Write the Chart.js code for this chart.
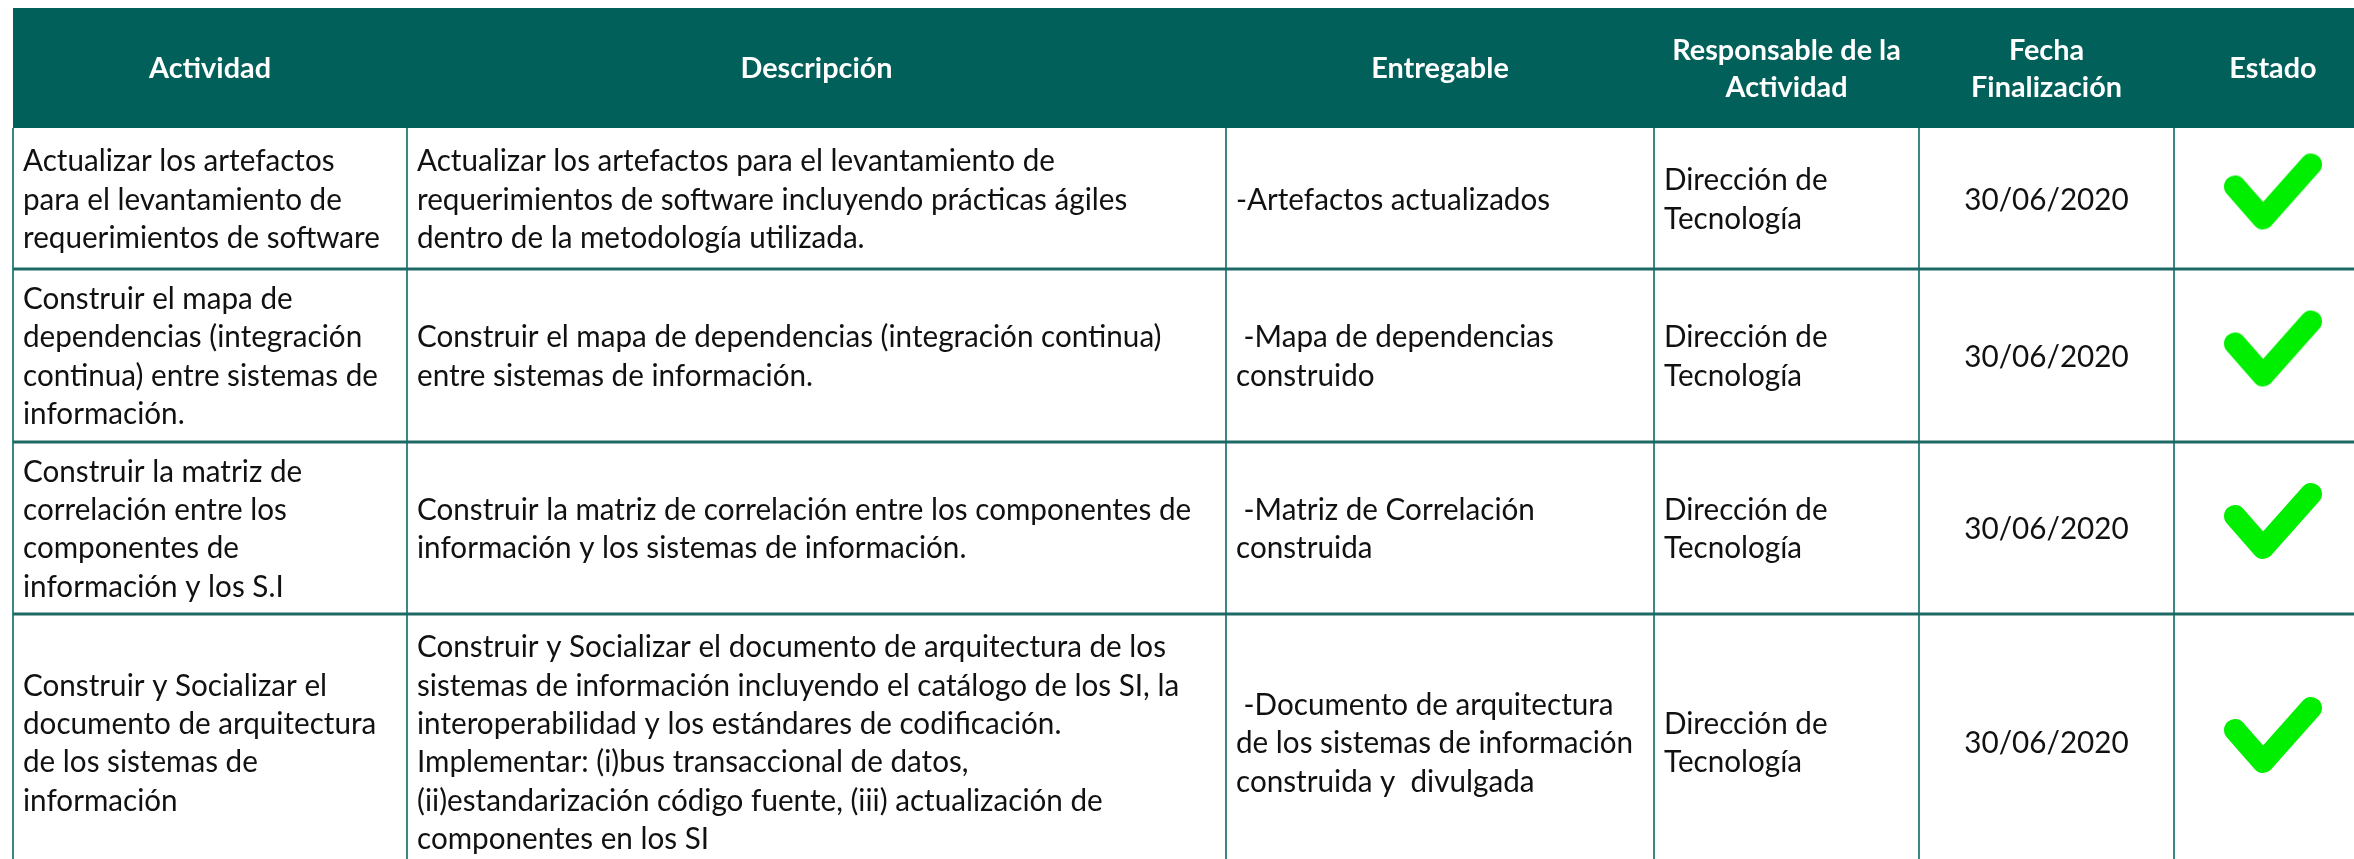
<!DOCTYPE html>
<html>
<head>
<meta charset="utf-8">
<script src="https://cdn.jsdelivr.net/npm/chart.js@4.4.1/dist/chart.umd.min.js"></script>
<style>
    html, body { margin: 0; padding: 0; background: #ffffff; }
    #tabla { display: block; }
</style>
</head>
<body>
<canvas id="tabla" width="2354" height="859"></canvas>
<script>
// datos de la tabla
const encabezados = [["Actividad"], ["Descripción"], ["Entregable"], ["Responsable de la", "Actividad"], ["Fecha", "Finalización"], ["Estado"]];

const actividades = [
    ["Actualizar los artefactos", "para el levantamiento de", "requerimientos de software"],
    ["Construir el mapa de", "dependencias (integración", "continua) entre sistemas de", "información."],
    ["Construir la matriz de", "correlación entre los", "componentes de", "información y los S.I"],
    ["Construir y Socializar el", "documento de arquitectura", "de los sistemas de", "información"]
];

const descripciones = [
    ["Actualizar los artefactos para el levantamiento de", "requerimientos de software incluyendo prácticas ágiles", "dentro de la metodología utilizada."],
    ["Construir el mapa de dependencias (integración continua)", "entre sistemas de información."],
    ["Construir la matriz de correlación entre los componentes de", "información y los sistemas de información."],
    ["Construir y Socializar el documento de arquitectura de los", "sistemas de información incluyendo el catálogo de los SI, la", "interoperabilidad y los estándares de codificación.", "Implementar: (i)bus transaccional de datos,", "(ii)estandarización código fuente, (iii) actualización de", "componentes en los SI"]
];

const entregables = [
    ["-Artefactos actualizados"],
    [" -Mapa de dependencias", "construido"],
    [" -Matriz de Correlación", "construida"],
    [" -Documento de arquitectura", "de los sistemas de información", "construida y  divulgada"]
];

const responsables = [
    ["Dirección de", "Tecnología"],
    ["Dirección de", "Tecnología"],
    ["Dirección de", "Tecnología"],
    ["Dirección de", "Tecnología"]
];

const fechas = ["30/06/2020", "30/06/2020", "30/06/2020", "30/06/2020"];
const estados = [true, true, true, true];

// disposición (pixeles)
const bordesColumnas = [13, 407, 1226, 1654, 1919, 2174, 2372];
const altoEncabezado = 120;
const inicioTabla = 8;
const altosFilas = [141, 173, 172, 256];
const alineaciones = ["left", "left", "left", "left", "center", "center"];

const colorEncabezado = "#01605a";
const colorLineaV = "#3a8883";
const colorLineaH = "#1d6a65";
const colorTexto = "#111111";
const colorCheck = "#00ee00";

const topesFilas = [];
altosFilas.reduce((acc, h) => { topesFilas.push(acc); return acc + h; }, inicioTabla + altoEncabezado);

function crearCheck() {
    const c = document.createElement("canvas");
    c.width = 110;
    c.height = 90;
    const g = c.getContext("2d");
    const cx = 55, cy = 45;
    g.strokeStyle = colorCheck;
    g.lineWidth = 22;
    g.lineCap = "round";
    g.lineJoin = "round";
    g.beginPath();
    g.moveTo(cx - 38, cy - 5);
    g.lineTo(cx - 10, cy + 27);
    g.lineTo(cx + 38, cy - 27);
    g.stroke();
    return c;
}

function textoComprimido(ctx, linea, x, y, alinear, escala) {
    ctx.save();
    ctx.translate(x, y);
    ctx.scale(escala, 1);
    ctx.textAlign = alinear;
    ctx.fillText(linea, 0, 0);
    ctx.restore();
}

const pluginTabla = {
    id: "tabla",
    beforeDatasetsDraw(chart) {
        const ctx = chart.ctx;
        const sx = chart.scales.x;
        const sy = chart.scales.y;
        const px = v => sx.getPixelForValue(v);
        const py = v => sy.getPixelForValue(v);
        const yFin = topesFilas[topesFilas.length - 1] + altosFilas[altosFilas.length - 1];

        // calibrar ancho de letra (Calibri es más estrecha)
        ctx.font = "30px Lato";
        const escalaCuerpo = 638 / ctx.measureText(descripciones[0][0]).width;
        ctx.font = "bold 29px Lato";
        const escalaEnc = 122 / ctx.measureText("Actividad").width;

        ctx.save();
        // encabezado
        ctx.fillStyle = colorEncabezado;
        ctx.fillRect(px(bordesColumnas[0]), py(inicioTabla), px(bordesColumnas[6]) - px(bordesColumnas[0]), py(inicioTabla + altoEncabezado) - py(inicioTabla));
        ctx.fillStyle = "#ffffff";
        ctx.font = "bold 29px Lato";
        ctx.textBaseline = "middle";
        encabezados.forEach((lineas, i) => {
            const xc = (bordesColumnas[i] + bordesColumnas[i + 1]) / 2;
            const yc = inicioTabla + altoEncabezado / 2 + 1;
            lineas.forEach((l, k) => {
                const y = yc + (k - (lineas.length - 1) / 2) * 37;
                textoComprimido(ctx, l, px(xc), py(y), "center", escalaEnc);
            });
        });

        // lineas de la tabla
        ctx.strokeStyle = colorLineaV;
        ctx.lineWidth = 2;
        bordesColumnas.slice(0, 6).forEach(b => {
            ctx.beginPath();
            ctx.moveTo(px(b), py(inicioTabla + altoEncabezado));
            ctx.lineTo(px(b), py(yFin));
            ctx.stroke();
        });
        ctx.strokeStyle = colorLineaH;
        ctx.lineWidth = 3;
        topesFilas.slice(1).forEach(t => {
            ctx.beginPath();
            ctx.moveTo(px(bordesColumnas[0]), py(t));
            ctx.lineTo(px(bordesColumnas[6]), py(t));
            ctx.stroke();
        });

        // celdas
        ctx.fillStyle = colorTexto;
        ctx.font = "30px Lato";
        const columnas = [actividades, descripciones, entregables, responsables, fechas.map(f => [f])];
        const relleno = 10;
        columnas.forEach((col, i) => {
            col.forEach((lineas, r) => {
                const yc = topesFilas[r] + altosFilas[r] / 2 + 1.5;
                const x = alineaciones[i] === "center" ? (bordesColumnas[i] + bordesColumnas[i + 1]) / 2 : bordesColumnas[i] + relleno;
                lineas.forEach((l, k) => {
                    const y = yc + (k - (lineas.length - 1) / 2) * 38.4;
                    textoComprimido(ctx, l, px(x), py(y), alineaciones[i], escalaCuerpo);
                });
            });
        });
        ctx.restore();
    }
};

const imagenCheck = crearCheck();
const puntosEstado = estados.map((ok, r) => ok ? {
    x: (bordesColumnas[5] + bordesColumnas[6]) / 2,
    y: topesFilas[r] + altosFilas[r] / 2 - 7
} : null).filter(p => p);

const chart = new Chart(document.getElementById("tabla").getContext("2d"), {
    type: "scatter",
    data: {
        datasets: [{
            label: "Estado",
            data: puntosEstado,
            pointStyle: imagenCheck,
            pointRadius: 40,
            showLine: false,
            clip: false
        }]
    },
    options: {
        responsive: false,
        animation: false,
        events: [],
        layout: { padding: 0, autoPadding: false },
        plugins: {
            legend: { display: false },
            tooltip: { enabled: false }
        },
        scales: {
            x: { type: "linear", display: false, min: 0, max: 2354 },
            y: { type: "linear", display: false, min: 0, max: 859, reverse: true }
        }
    },
    plugins: [pluginTabla]
});
</script>
</body>
</html>
